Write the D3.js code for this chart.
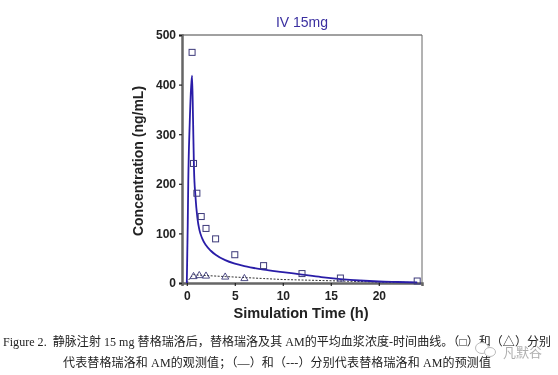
<!DOCTYPE html>
<html>
<head>
<meta charset="utf-8">
<script src="https://cdn.jsdelivr.net/npm/d3@7"></script>
<style>
    html, body { margin: 0; padding: 0; background: #fff; }
    svg { display: block; }
</style>
</head>
<body>
<svg id="chart-svg"></svg>
<script>
// observed parent drug (squares)
const obsParentTime = [0.55, 0.7, 1.05, 1.5, 2, 3, 5, 8, 12, 16, 24];
const obsParentConc = [465, 241, 181, 134, 110, 89, 57, 35, 19, 10, 4];
// observed metabolite AM (triangles)
const obsAmTime = [0.7, 1.3, 2, 4, 6];
const obsAmConc = [13, 15, 14, 12, 9];
// predicted curves
const predParentTime = [0, 0.1, 0.15, 0.3, 0.45, 0.55, 0.65, 0.75, 0.9, 1.1, 1.3, 1.6, 2, 2.5, 3, 4, 5, 6, 8, 10, 12, 14, 16, 18, 20, 22, 24];
const predParentConc = [0, 120, 200, 320, 395, 418, 330, 230, 175, 132, 108, 90, 76, 65, 57, 46, 39, 34, 27, 22, 17, 12, 8, 5, 3, 2, 1];
const predAmTime = [0, 0.3, 0.7, 1.2, 2, 4, 6, 8, 10, 12, 16, 20, 24];
const predAmConc = [0, 9, 17, 16, 15, 13, 11, 9, 7, 6, 4, 2, 1];

const xTicks = [0, 5, 10, 15, 20];
const yTicks = [0, 100, 200, 300, 400, 500];

const titleText = 'IV 15mg';
const xLabel = 'Simulation Time (h)';
const yLabel = 'Concentration (ng/mL)';
const captionLine1 = 'Figure 2.  静脉注射 15 mg 替格瑞洛后，替格瑞洛及其 AM的平均血浆浓度-时间曲线。（□）和（△）分别';
const captionLine2 = '代表替格瑞洛和 AM的观测值；（—）和（---）分别代表替格瑞洛和 AM的预测值';
const watermark = '凡默谷';

const width = 558;
const height = 375;
const plot = {left: 182, right: 422, top: 35, bottom: 283};

const svg = d3.select('#chart-svg')
    .attr('width', width)
    .attr('height', height);

// the source is a soft screenshot
const defs = svg.append('defs');
defs.append('filter').attr('id', 'soft')
    .append('feGaussianBlur').attr('stdDeviation', 0.5);
defs.append('filter').attr('id', 'softer')
    .append('feGaussianBlur').attr('stdDeviation', 0.3);

const root = svg.append('g').attr('filter', 'url(#soft)');
const notes = svg.append('g').attr('filter', 'url(#softer)');

const xScale = d3.scaleLinear().domain([-0.5, 24.5]).range([plot.left, plot.right]);
const yScale = d3.scaleLinear().domain([0, 500]).range([plot.bottom, plot.top]);

//frame, thin on top and right
root.append('line').attr('x1', plot.left).attr('x2', plot.right).attr('y1', plot.top).attr('y2', plot.top)
    .attr('stroke', '#444').attr('stroke-width', 1);
root.append('line').attr('x1', plot.right).attr('x2', plot.right).attr('y1', plot.top).attr('y2', plot.bottom)
    .attr('stroke', '#666').attr('stroke-width', 1);

//x axis
const xAxisG = root.append('g')
    .attr('transform', 'translate(0,' + plot.bottom + ')')
    .call(d3.axisBottom(xScale).tickValues(xTicks).tickSize(3).tickPadding(5));
xAxisG.select('.domain').attr('stroke', '#666').attr('stroke-width', 2.5);
xAxisG.selectAll('.tick line').attr('stroke', '#222').attr('stroke-width', 1.2);
xAxisG.selectAll('text')
    .style('font-family', '"Liberation Sans", Arial, sans-serif')
    .style('font-size', '12px')
    .style('font-weight', 'bold')
    .attr('fill', '#222');

//y axis
const yAxisG = root.append('g')
    .attr('transform', 'translate(' + plot.left + ',0)')
    .call(d3.axisLeft(yScale).tickValues(yTicks).tickSize(3).tickPadding(3));
yAxisG.select('.domain').attr('stroke', '#666').attr('stroke-width', 2.5);
yAxisG.selectAll('.tick line').attr('stroke', '#222').attr('stroke-width', 1.2);
yAxisG.selectAll('text')
    .style('font-family', '"Liberation Sans", Arial, sans-serif')
    .style('font-size', '12px')
    .style('font-weight', 'bold')
    .attr('fill', '#222');

//axis titles and chart title
root.append('text')
    .attr('x', 302).attr('y', 27)
    .style('text-anchor', 'middle')
    .style('font-family', '"Liberation Sans", Arial, sans-serif')
    .style('font-size', '14px')
    .attr('fill', '#3a2fa0')
    .text(titleText);

root.append('text')
    .attr('x', 301).attr('y', 318)
    .style('text-anchor', 'middle')
    .style('font-family', '"Liberation Sans", Arial, sans-serif')
    .style('font-size', '14.6px')
    .style('font-weight', 'bold')
    .attr('fill', '#222')
    .text(xLabel);

root.append('text')
    .attr('transform', 'translate(143,161) rotate(-90)')
    .style('text-anchor', 'middle')
    .style('font-family', '"Liberation Sans", Arial, sans-serif')
    .style('font-size', '14px')
    .style('font-weight', 'bold')
    .attr('fill', '#222')
    .text(yLabel);

const line = d3.line()
    .x(d => xScale(d[0]))
    .y(d => yScale(d[1]));

// predicted AM, dashed
root.append('path')
    .datum(d3.zip(predAmTime, predAmConc))
    .attr('fill', 'none')
    .attr('stroke', '#333')
    .attr('stroke-width', 1)
    .attr('stroke-dasharray', '2,1.5')
    .attr('d', line);

// predicted parent
root.append('path')
    .datum(d3.zip(predParentTime, predParentConc))
    .attr('fill', 'none')
    .attr('stroke', '#2a1fa8')
    .attr('stroke-width', 1.8)
    .attr('d', line.curve(d3.curveMonotoneX));

// squares
root.append('g').selectAll('rect')
    .data(d3.zip(obsParentTime, obsParentConc))
    .join('rect')
    .attr('x', d => xScale(d[0]) - 3)
    .attr('y', d => yScale(d[1]) - 3)
    .attr('width', 6)
    .attr('height', 6)
    .attr('fill', 'none')
    .attr('stroke', '#3d3a7a')
    .attr('stroke-width', 1);

// triangles
const triangle = d3.symbol().type(d3.symbolTriangle).size(22);
root.append('g').selectAll('path')
    .data(d3.zip(obsAmTime, obsAmConc))
    .join('path')
    .attr('transform', d => 'translate(' + xScale(d[0]) + ',' + yScale(d[1]) + ')')
    .attr('d', triangle)
    .attr('fill', 'none')
    .attr('stroke', '#3d3a7a')
    .attr('stroke-width', 0.9);

//caption
notes.append('text')
    .attr('x', 3).attr('y', 346)
    .attr('textLength', 548)
    .attr('lengthAdjust', 'spacing')
    .style('font-family', '"Liberation Serif", "Noto Sans CJK SC", serif')
    .style('font-size', '12px')
    .style('white-space', 'pre')
    .attr('fill', '#222')
    .text(captionLine1);

notes.append('text')
    .attr('x', 63).attr('y', 367)
    .attr('textLength', 428)
    .attr('lengthAdjust', 'spacing')
    .style('font-family', '"Liberation Serif", "Noto Sans CJK SC", serif')
    .style('font-size', '12px')
    .attr('fill', '#222')
    .text(captionLine2);

//faint watermark over the caption, with the chat bubble mark beside it
const bubble = notes.append('g')
    .attr('fill', '#fff')
    .attr('stroke', '#bbb')
    .attr('stroke-width', 1);
bubble.append('ellipse').attr('cx', 482).attr('cy', 348).attr('rx', 6.5).attr('ry', 5.5);
bubble.append('ellipse').attr('cx', 490).attr('cy', 352).attr('rx', 5.5).attr('ry', 4.5);

notes.append('text')
    .attr('x', 503).attr('y', 357)
    .style('font-family', '"Noto Sans CJK SC", sans-serif')
    .style('font-size', '13px')
    .attr('fill', '#999')
    .attr('opacity', 0.8)
    .text(watermark);
</script>
</body>
</html>
